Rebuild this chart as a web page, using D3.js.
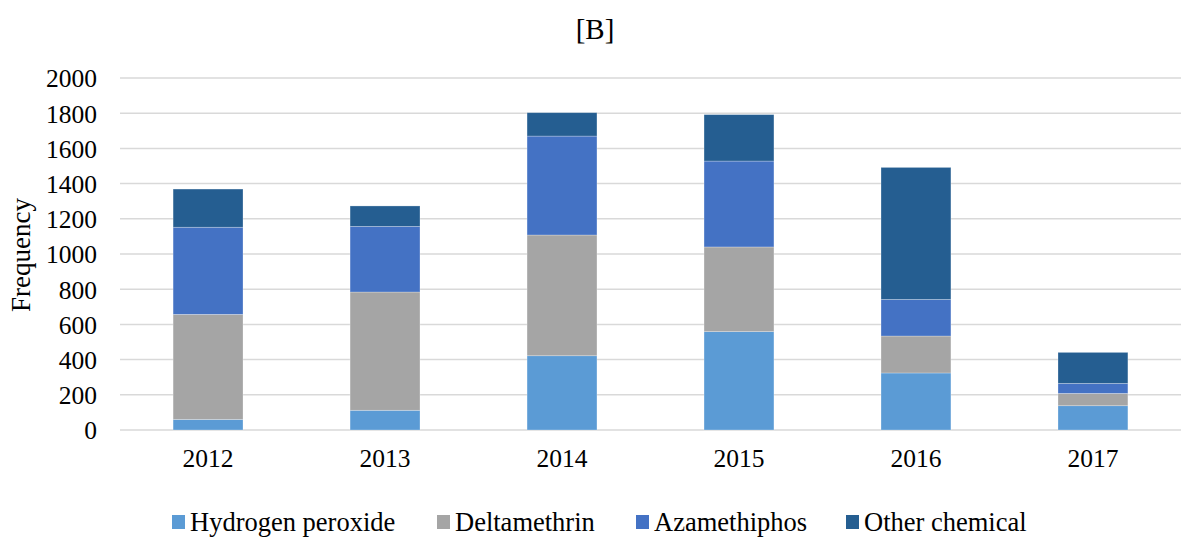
<!DOCTYPE html>
<html><head><meta charset="utf-8">
<script src="https://cdn.jsdelivr.net/npm/d3@7"></script>
<style>body{margin:0;background:#fff}svg{display:block}text{font-family:"Liberation Serif","Times New Roman",serif;fill:#000}</style>
</head><body><div id="chart"></div>
<script>
const years = ["2012","2013","2014","2015","2016","2017"];
const seriesNames = ["Hydrogen peroxide","Deltamethrin","Azamethiphos","Other chemical"];
const hydrogenPeroxide = [60, 112, 422, 559, 324, 138];
const deltamethrin = [597, 672, 686, 481, 210, 70];
const azamethiphos = [495, 373, 562, 488, 208, 57];
const otherChemical = [217, 116, 133, 264, 750, 176];
const yTicks = [0,200,400,600,800,1000,1200,1400,1600,1800,2000];
const colors = ["#5B9BD5","#A5A5A5","#4472C4","#255E91"];
const title = "[B]";
const yLabel = "Frequency";

const W = 1193, H = 540;
const m = {left:120, right:12, top:78, bottom:110};
const svg = d3.select("#chart").append("svg").attr("width",W).attr("height",H);

const table = years.map((y,i)=>({year:y, "Hydrogen peroxide":hydrogenPeroxide[i], "Deltamethrin":deltamethrin[i], "Azamethiphos":azamethiphos[i], "Other chemical":otherChemical[i]}));
const stack = d3.stack().keys(seriesNames)(table);

const x = d3.scaleBand().domain(years).range([m.left, W-m.right]).paddingInner(0.605).paddingOuter(0.3);
const y = d3.scaleLinear().domain([0,2000]).range([H-m.bottom, m.top]);

svg.append("g").selectAll("line").data(yTicks).join("line")
  .attr("x1", m.left).attr("x2", W-m.right)
  .attr("y1", d=>y(d)).attr("y2", d=>y(d))
  .attr("stroke","#d9d9d9").attr("stroke-width",1.5);

svg.append("g").selectAll("g").data(stack).join("g")
  .attr("fill",(d,i)=>colors[i])
  .selectAll("rect").data(d=>d).join("rect")
  .attr("x", d=>x(d.data.year)).attr("width", x.bandwidth())
  .attr("y", d=>y(d[1])).attr("height", d=>y(d[0])-y(d[1]))
  .attr("stroke","rgba(255,255,255,0.35)").attr("stroke-width",0.75);

const yAxis = svg.append("g").attr("transform",`translate(${m.left},0)`)
  .call(d3.axisLeft(y).tickValues(yTicks).tickSize(0).tickPadding(23).tickFormat(d3.format("d")));
yAxis.select(".domain").remove();
yAxis.selectAll("text").style("font-size","25.5px").style("font-family","'Liberation Serif',serif").attr("dy","0.35em");

const xAxis = svg.append("g").attr("transform",`translate(0,${y(0)})`)
  .call(d3.axisBottom(x).tickSize(0).tickPadding(19));
xAxis.select(".domain").remove();
xAxis.selectAll("text").style("font-size","25.5px").style("font-family","'Liberation Serif',serif");

svg.append("text").attr("x",595).attr("y",39).attr("text-anchor","middle").style("font-size","29px").text(title);

svg.append("text").attr("transform","translate(30,255) rotate(-90)").attr("text-anchor","middle").style("font-size","27px").text(yLabel);

const legendX = [172, 437, 636, 846];
const lg = svg.append("g").selectAll("g").data(seriesNames).join("g")
  .attr("transform",(d,i)=>`translate(${legendX[i]},515)`);
lg.append("rect").attr("width",13).attr("height",14).attr("fill",(d,i)=>colors[i]);
lg.append("text").attr("x",18).attr("y",16).style("font-size","26.5px").text(d=>d);
</script></body></html>
